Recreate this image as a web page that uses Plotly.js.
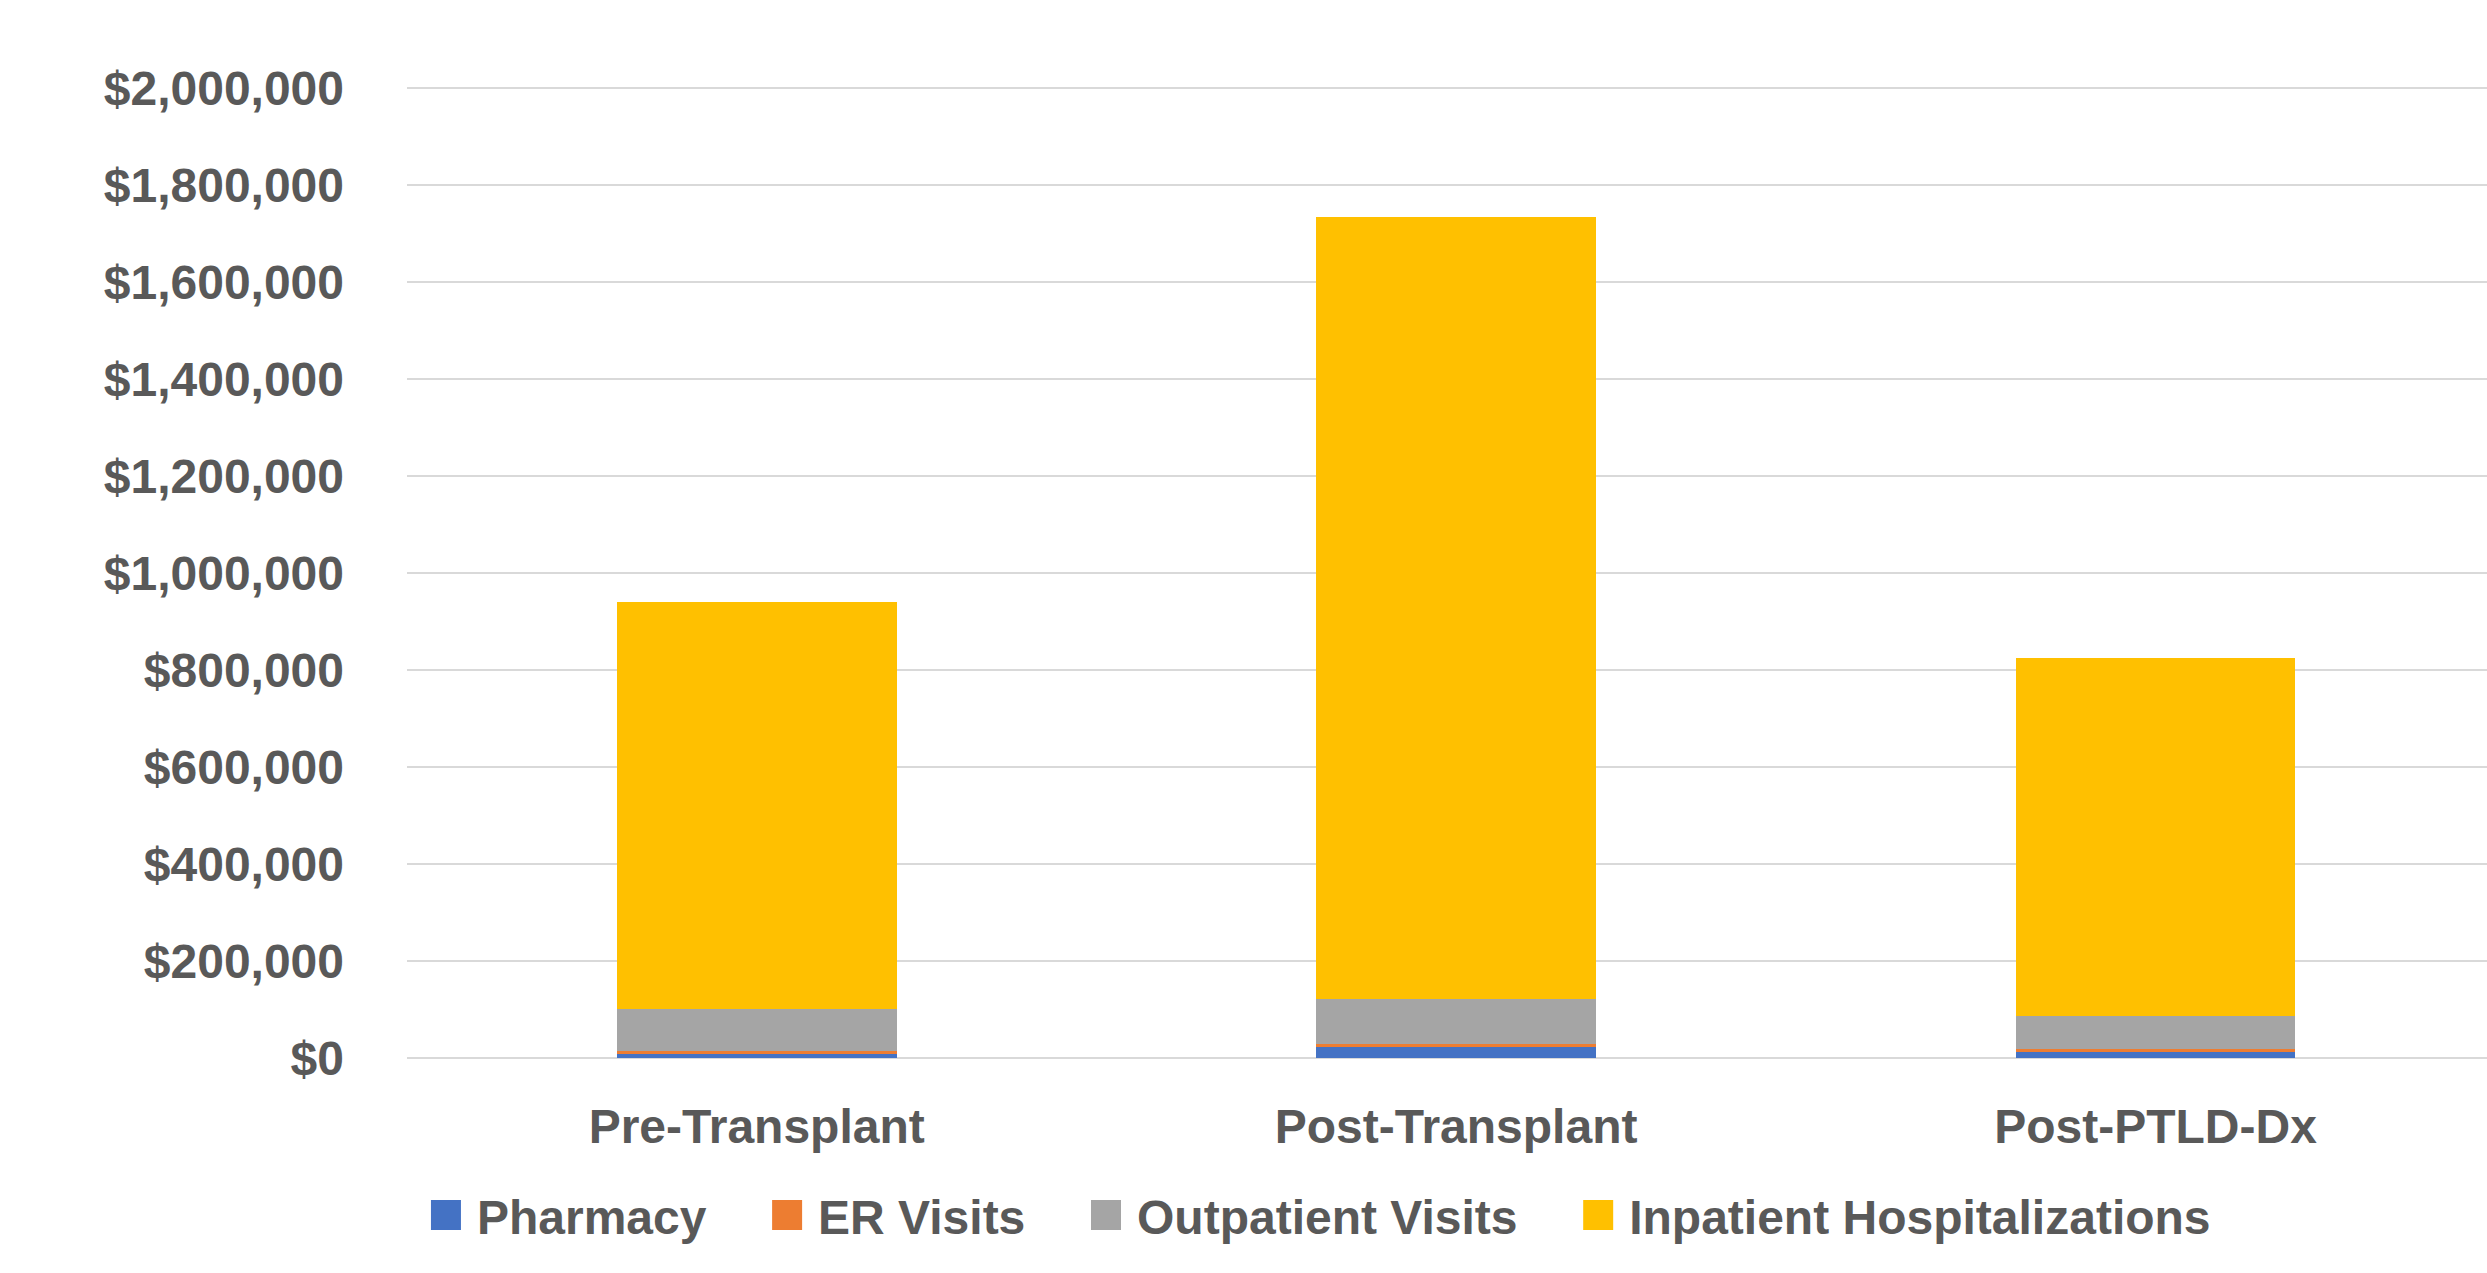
<!DOCTYPE html>
<html>
<head>
<meta charset="utf-8">
<script src="https://cdn.plot.ly/plotly-3.0.1.min.js"></script>
<style>
html,body{margin:0;padding:0;background:#fff;}
#chart{width:2487px;height:1273px;}
</style>
</head>
<body>
<div id="chart"></div>
<script>
const categories = ["Pre-Transplant", "Post-Transplant", "Post-PTLD-Dx"];
const pharmacy = [9000, 22000, 13000];
const erVisits = [5500, 7400, 4800];
const outpatientVisits = [86000, 92800, 68700];
const inpatientHospitalizations = [840000, 1612000, 738000];
const seriesNames = ["Pharmacy", "ER Visits", "Outpatient Visits", "Inpatient Hospitalizations"];
const seriesColors = ["#4472C4", "#ED7D31", "#A5A5A5", "#FFC000"];
const yTickValues = [0, 200000, 400000, 600000, 800000, 1000000, 1200000, 1400000, 1600000, 1800000, 2000000];
const yTickLabels = ["$0", "$200,000", "$400,000", "$600,000", "$800,000", "$1,000,000", "$1,200,000", "$1,400,000", "$1,600,000", "$1,800,000", "$2,000,000"];

const FONT = "'Liberation Sans', Arial, sans-serif";
const FS = 48;
const pad = "\u00a0\u00a0\u00a0\u00a0\u00a0";
const seriesValues = [pharmacy, erVisits, outpatientVisits, inpatientHospitalizations];

const traces = seriesValues.map((vals, i) => ({
  type: "bar",
  name: seriesNames[i] + (i < seriesNames.length - 1 ? pad : ""),
  x: categories,
  y: vals,
  marker: {color: seriesColors[i], line: {width: 0}},
  hoverinfo: "x+y+name"
}));

const layout = {
  width: 2487,
  height: 1273,
  barmode: "stack",
  bargap: 0.6,
  paper_bgcolor: "#ffffff",
  plot_bgcolor: "#ffffff",
  margin: {l: 407, r: 0, t: 87, b: 215},
  font: {family: FONT, size: FS, color: "#595959", weight: "bold"},
  xaxis: {
    type: "category",
    range: [-0.5, 2.474],
    showgrid: false,
    showline: false,
    zeroline: false,
    ticks: "",
    ticklabelstandoff: 36,
    tickfont: {family: FONT, size: FS, color: "#595959", weight: "bold"}
  },
  yaxis: {
    range: [0, 2002100],
    tickmode: "array",
    tickvals: yTickValues,
    ticktext: yTickLabels,
    showgrid: true,
    gridcolor: "#d9d9d9",
    gridwidth: 2,
    zeroline: true,
    zerolinecolor: "#d9d9d9",
    zerolinewidth: 2,
    showline: false,
    ticks: "",
    ticklabelstandoff: 62,
    tickfont: {family: FONT, size: FS, color: "#595959", weight: "bold"}
  },
  showlegend: true,
  legend: {
    orientation: "h",
    x: 0.0144,
    xanchor: "left",
    y: -0.162,
    yanchor: "middle",
    traceorder: "normal",
    font: {family: FONT, size: FS, color: "#595959", weight: "bold"},
    bgcolor: "rgba(0,0,0,0)",
    itemclick: false,
    itemdoubleclick: false
  }
};

function bigSquares(gd) {
  gd.querySelectorAll(".legend [clip-path]").forEach(el => el.removeAttribute("clip-path"));
  gd.querySelectorAll(".legend .legendpoints path").forEach(p => {
    p.setAttribute("d", "M24,15H-6V-15H24Z");
    p.removeAttribute("transform");
  });
}

Plotly.newPlot("chart", traces, layout, {displayModeBar: false, staticPlot: true}).then(gd => {
  bigSquares(gd);
  setTimeout(() => bigSquares(gd), 50);
});
</script>
</body>
</html>
